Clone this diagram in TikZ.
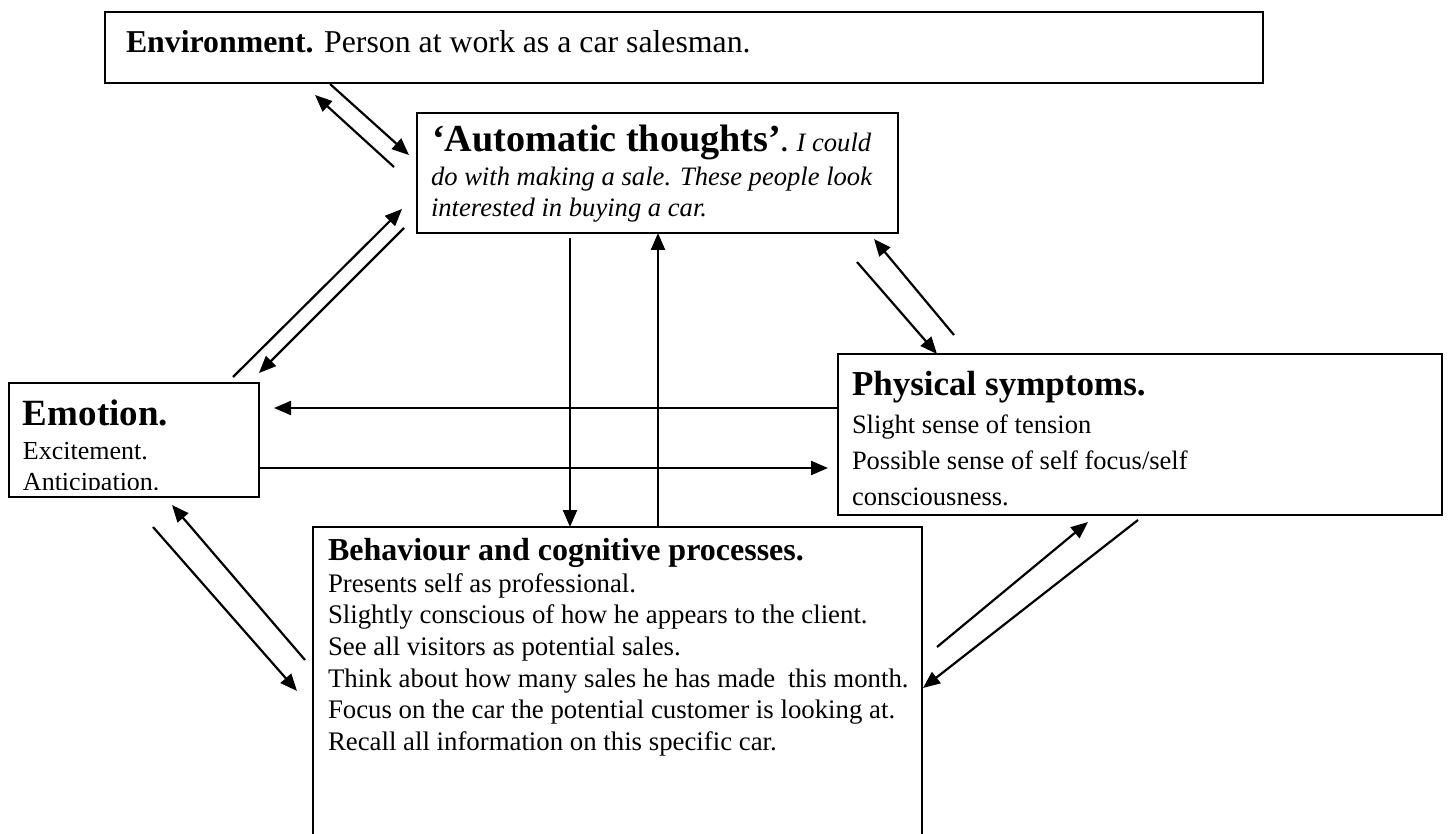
\documentclass[tikz,border=0pt]{standalone}
\usepackage{fontspec}
\setmainfont{Liberation Serif}
\usetikzlibrary{arrows.meta}
\newcommand\setfs[1]{\fontsize{#1}{#1}\selectfont}
\begin{document}
\begin{tikzpicture}[x=0.5pt,y=-0.5pt,
  box/.style={draw, line width=1pt, rectangle, inner sep=0pt, outer sep=0pt, anchor=north west},
  txt/.style={anchor=base west, inner sep=0pt, outer sep=0pt},
  arr/.style={line width=1.1pt, -{Triangle[length=8.5pt,width=7pt]}},
  ]
\useasboundingbox (0,0) rectangle (1450,834);

% boxes
\node[box, minimum width=579pt, minimum height=35.5pt] (env) at (105,12) {};
\node[box, minimum width=240.5pt, minimum height=60pt] (auto) at (417,113) {};
\node[box, minimum width=125pt, minimum height=57pt] (emo) at (9,383) {};
\node[box, minimum width=302pt, minimum height=80.5pt] (phys) at (838,354) {};
\node[box, minimum width=304.5pt, minimum height=161.5pt] (beh) at (313,527) {};

% texts
\node[txt] (envt) at (126,53) {\setfs{15.9pt}\textbf{Environment.} Person at work as a car salesman.};

\node[txt] (auto1) at (432,152) {\setfs{19.1pt}\textbf{‘Automatic thoughts’}\setfs{13.3pt}\textbf{.} \textit{I could}};
\node[txt] (auto2) at (431,186) {\setfs{13.3pt}\itshape do with making a sale. These people look};
\node[txt] (auto3) at (431,217) {\setfs{13.3pt}\itshape interested in buying a car.};

\begin{scope}
\clip (9,383) rectangle (259,489);
\node[txt] (emo1) at (23,425) {\setfs{18.5pt}\bfseries Emotion.};
\node[txt] (emo2) at (23,459) {\setfs{13pt}Excitement.};
\node[txt] (emo3) at (23,490) {\setfs{13pt}Anticipation.};
\end{scope}

\node[txt] (phys1) at (852,395) {\setfs{17.5pt}\bfseries Physical symptoms.};
\node[txt] (phys2) at (852,433) {\setfs{13.25pt}Slight sense of tension};
\node[txt] (phys3) at (852,469) {\setfs{13.25pt}Possible sense of self focus/self};
\node[txt] (phys4) at (852,505) {\setfs{13.25pt}consciousness.};

\node[txt] (beh1) at (328,560) {\setfs{16pt}\bfseries Behaviour and cognitive processes.};
\node[txt] (beh2) at (328,592) {\setfs{13.4pt}Presents self as professional.};
\node[txt] (beh3) at (328,623) {\setfs{13.4pt}Slightly conscious of how he appears to the client.};
\node[txt] (beh4) at (328,655) {\setfs{13.4pt}See all visitors as potential sales.};
\node[txt] (beh5) at (328,687) {\setfs{13.4pt}Think about how many sales he has made\hspace{3pt} this month.};
\node[txt] (beh6) at (328,718) {\setfs{13.4pt}Focus on the car the potential customer is looking at.};
\node[txt] (beh7) at (328,750) {\setfs{13.4pt}Recall all information on this specific car.};

% arrow end points
\coordinate (a1s) at (330,84);   \coordinate (a1e) at (409,155);
\coordinate (a2s) at (394,167);  \coordinate (a2e) at (315,95);
\coordinate (a3s) at (233,377);  \coordinate (a3e) at (402,209);
\coordinate (a4s) at (404,228);  \coordinate (a4e) at (259,373);
\coordinate (a5s) at (570,238);
\coordinate (a6s) at (658,527);
\coordinate (a7s) at (857,262);  \coordinate (a7e) at (937,354);
\coordinate (a8s) at (954,335);  \coordinate (a8e) at (874,239);
\coordinate (a9e) at (274,408);
\coordinate (a10e) at (828,468);
\coordinate (a11s) at (305,660); \coordinate (a11e) at (172,505);
\coordinate (a12s) at (153,527); \coordinate (a12e) at (297,691);
\coordinate (a13s) at (937,647); \coordinate (a13e) at (1088,522);
\coordinate (a14s) at (1138,520); \coordinate (a14e) at (923,688);

% connectors
\draw[arr] (a1s) -- (a1e);
\draw[arr] (a2s) -- (a2e);
\draw[arr] (a3s) -- (a3e);
\draw[arr] (a4s) -- (a4e);
\draw[arr] (a5s) -- (a5s |- beh.north);
\draw[arr] (a6s) -- (a6s |- auto.south);
\draw[arr] (a7s) -- (a7e);
\draw[arr] (a8s) -- (a8e);
\draw[arr] (phys.west |- a9e) -- (a9e);
\draw[arr] (emo.east |- a10e) -- (a10e);
\draw[arr] (a11s) -- (a11e);
\draw[arr] (a12s) -- (a12e);
\draw[arr] (a13s) -- (a13e);
\draw[arr] (a14s) -- (a14e);
\end{tikzpicture}
\end{document}
